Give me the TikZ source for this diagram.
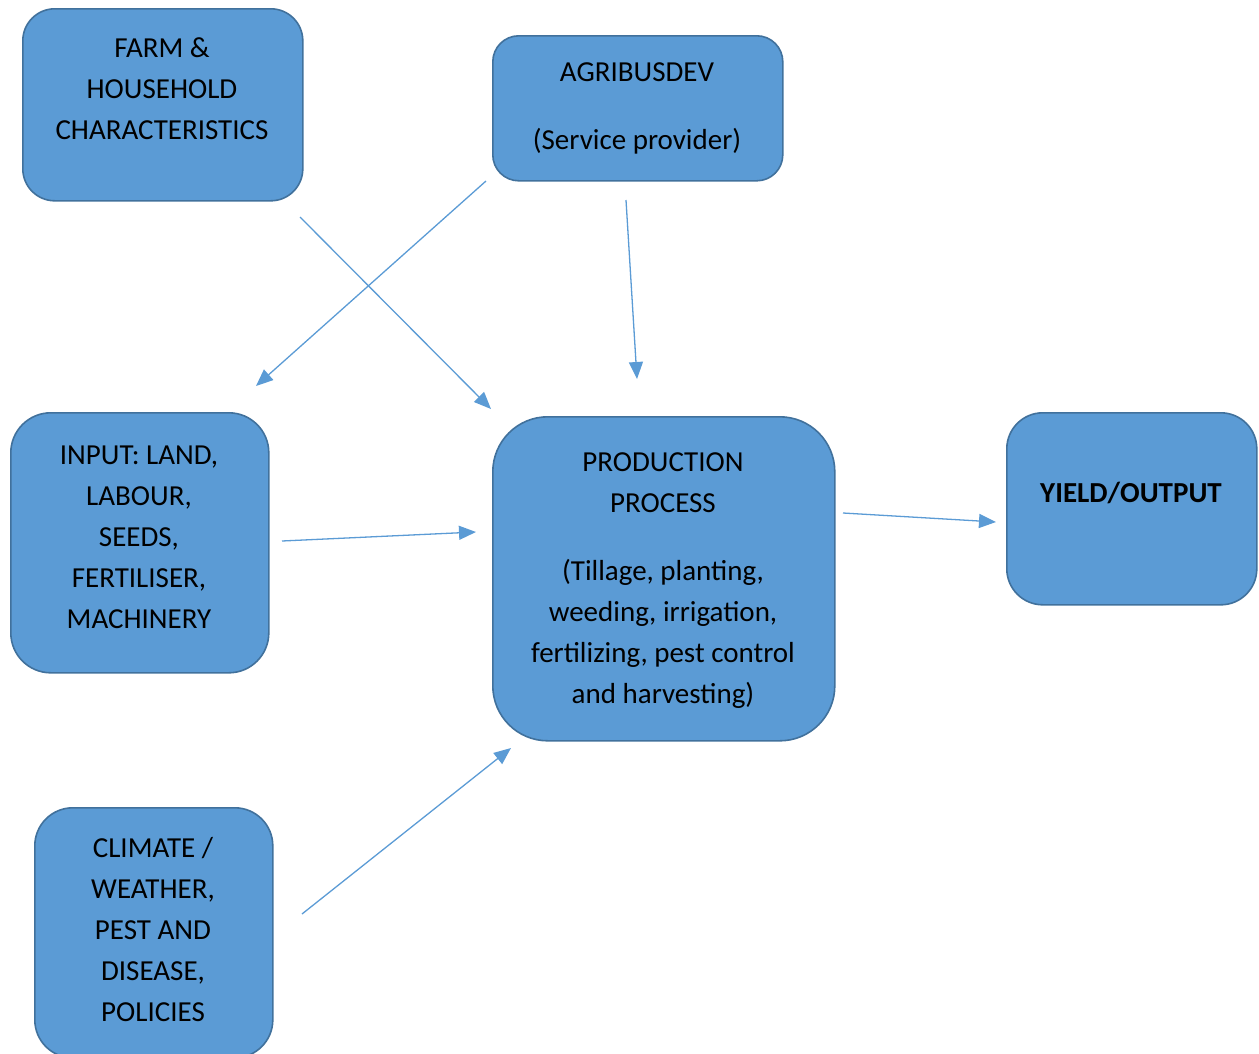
\documentclass[tikz,border=0pt]{standalone}
\usepackage{fontspec}
\setmainfont{Carlito}
\usetikzlibrary{arrows.meta}
\definecolor{boxfill}{HTML}{5B9BD5}
\definecolor{boxline}{HTML}{41719C}
\begin{document}
\begin{tikzpicture}[x=1pt,y=-1pt,
  box/.style={draw=boxline, fill=boxfill, line width=1.6pt, anchor=north west, inner sep=0pt},
  txt/.style={align=center, font=\fontsize{29}{41}\selectfont, inner sep=0pt},
  conn/.style={draw=boxfill, line width=1.3pt, -{Triangle[length=17pt,width=14pt]}}]
\useasboundingbox (0,0) rectangle (1259,1053);
% boxes
\node[box, rounded corners=32pt, minimum width=280pt, minimum height=192pt] (farm) at (22,8) {};
\node[box, rounded corners=26pt, minimum width=290pt, minimum height=145pt] (agri) at (492,35) {};
\node[box, rounded corners=40pt, minimum width=258pt, minimum height=260pt] (input) at (10,412) {};
\node[box, rounded corners=55pt, minimum width=342pt, minimum height=324pt] (prod) at (492,416) {};
\node[box, rounded corners=36pt, minimum width=250pt, minimum height=192pt] (yield) at (1006,412) {};
\node[box, rounded corners=38pt, minimum width=238pt, minimum height=250pt] (clim) at (34,807) {};
% texts
\node[txt] (farmt) at (162,89) {FARM \&\\HOUSEHOLD\\CHARACTERISTICS};
\node[txt] (agrit) at (637,108) {AGRIBUSDEV\\[27pt](Service provider)};
\node[txt] (inputt) at (139,537) {INPUT: LAND,\\LABOUR,\\SEEDS,\\FERTILISER,\\MACHINERY};
\node[txt] (prodt) at (663,581) {PRODUCTION\\PROCESS\\[27pt](Tillage, planting,\\weeding, irrigation,\\fertilizing, pest control\\and harvesting)};
\node[txt, font=\fontsize{29}{41}\selectfont\bfseries] (yieldt) at (1131,493) {YIELD/OUTPUT};
\node[txt] (climt) at (153,930) {CLIMATE /\\WEATHER,\\PEST AND\\DISEASE,\\POLICIES};
% connector ends
\coordinate (a1s) at (300,217); \coordinate (a1e) at (491,409);
\coordinate (a2s) at (486,181); \coordinate (a2e) at (256,386);
\coordinate (a3s) at (626,200); \coordinate (a3e) at (637,379);
\coordinate (a4s) at (282,541); \coordinate (a4e) at (476,532);
\coordinate (a5s) at (843,513); \coordinate (a5e) at (996,522);
\coordinate (a6s) at (302,914); \coordinate (a6e) at (511,748);
\draw[conn] (a1s) -- (a1e);
\draw[conn] (a2s) -- (a2e);
\draw[conn] (a3s) -- (a3e);
\draw[conn] (a4s) -- (a4e);
\draw[conn] (a5s) -- (a5e);
\draw[conn] (a6s) -- (a6e);
\end{tikzpicture}
\end{document}
